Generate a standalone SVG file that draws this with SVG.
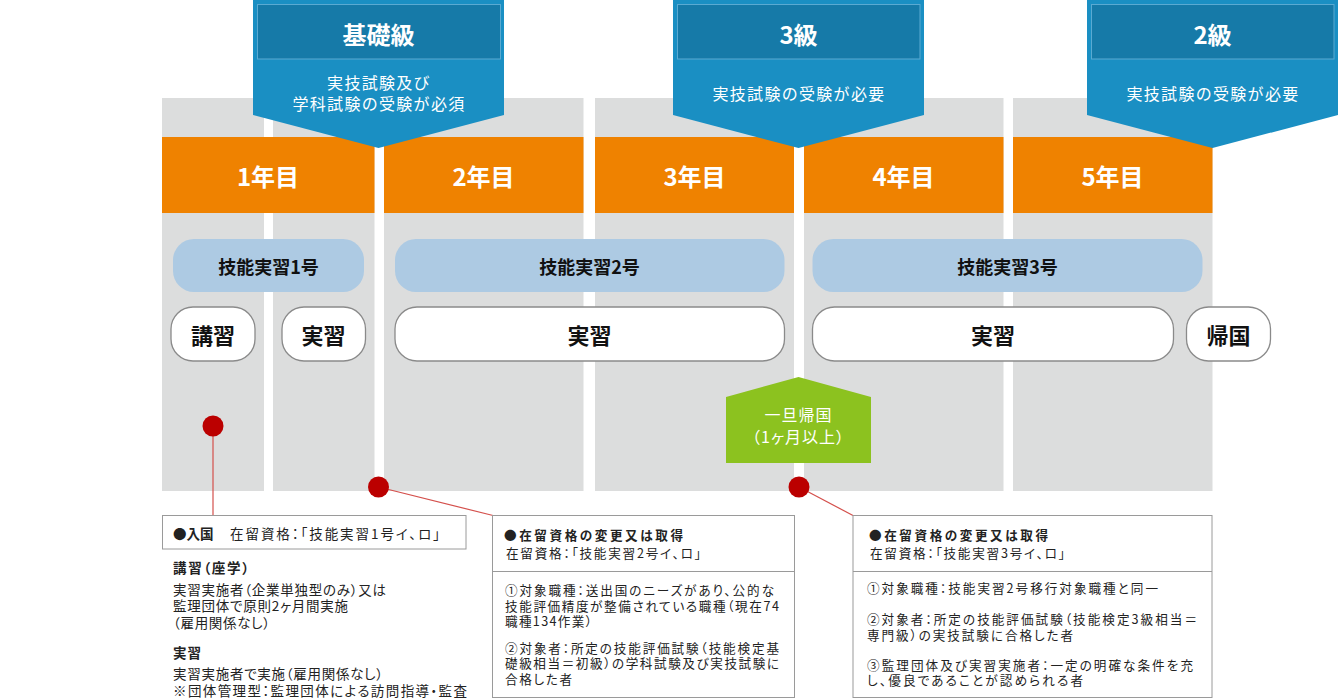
<svg xmlns="http://www.w3.org/2000/svg" width="1338" height="699" viewBox="0 0 1338 699">
<defs>
<style>
text{font-family:"Noto Sans CJK JP","Noto Sans",sans-serif;dominant-baseline:central}
.col{fill:#dcdddd}
.year{fill:#ef8200}
.yt{fill:#fff;font-size:24px;font-weight:700;text-anchor:middle}
.bo{fill:#1a8fc3}
.bi{fill:#167aa8;stroke:#5aaad2;stroke-width:1}
.bt{fill:#fff;font-size:24px;font-weight:700;text-anchor:middle}
.bs{fill:#fff;font-size:16px;text-anchor:middle;letter-spacing:1.3px}
.lb{fill:#adcae3}
.lbt{fill:#111;font-size:18px;font-weight:700;text-anchor:middle}
.wp{fill:#fff;stroke:#8a8a8a;stroke-width:1.3}
.wpt{fill:#111;font-size:22px;font-weight:700;text-anchor:middle}
.gr{fill:#8cc21f}
.grt{fill:#fff;font-size:16px;text-anchor:middle;letter-spacing:1px;font-feature-settings:"palt"}
.dot{fill:#bb0000}
.ln{stroke:#d4504c;stroke-width:1.2;fill:none}
.box{fill:#fff;stroke:#9a9a9a;stroke-width:1}
.t1{fill:#222;font-size:13.5px;font-feature-settings:"palt"}
.t2{fill:#222;font-size:12.6px;font-feature-settings:"palt"}
.b{font-weight:700}
</style>
</defs>
<g id="columns">
<rect class="col" x="162" y="98" width="102" height="393"/>
<rect class="col" x="273" y="98" width="101.5" height="393"/>
<rect class="col" x="384" y="98" width="199.5" height="393"/>
<rect class="col" x="595" y="98" width="199" height="393"/>
<rect class="col" x="804" y="98" width="199.5" height="393"/>
<rect class="col" x="1013" y="98" width="199.5" height="393"/>
</g>
<g id="year1"><rect class="year" x="162" y="137" width="212.5" height="76"/><text class="yt" x="268" y="175">1年目</text></g>
<g id="year2"><rect class="year" x="384" y="137" width="199.5" height="76"/><text class="yt" x="483.5" y="175">2年目</text></g>
<g id="year3"><rect class="year" x="595" y="137" width="199" height="76"/><text class="yt" x="694.5" y="175">3年目</text></g>
<g id="year4"><rect class="year" x="804" y="137" width="199.5" height="76"/><text class="yt" x="903.5" y="175">4年目</text></g>
<g id="year5"><rect class="year" x="1013" y="137" width="199.5" height="76"/><text class="yt" x="1112.5" y="175">5年目</text></g>
<g id="banner-kiso">
<path class="bo" d="M253,0 H504 V115 L378.5,148 L253,115 Z"/>
<rect class="bi" x="257.5" y="4.5" width="243" height="54.5"/>
<text class="bt" x="378.5" y="33">基礎級</text>
<text class="bs" x="379" y="82">実技試験及び</text>
<text class="bs" x="379" y="103">学科試験の受験が必須</text>
</g>
<g id="banner-3kyu">
<path class="bo" d="M673,0 H924 V115 L798.5,148 L673,115 Z"/>
<rect class="bi" x="677.5" y="4.5" width="242.5" height="54.5"/>
<text class="bt" x="798.5" y="33">3級</text>
<text class="bs" x="799" y="93">実技試験の受験が必要</text>
</g>
<g id="banner-2kyu">
<path class="bo" d="M1087,0 H1338 V115 L1212.5,148 L1087,115 Z"/>
<rect class="bi" x="1091.5" y="4.5" width="242.5" height="54.5"/>
<text class="bt" x="1212.5" y="33">2級</text>
<text class="bs" x="1213" y="93">実技試験の受験が必要</text>
</g>
<g id="gino1"><rect class="lb" x="173" y="239" width="191" height="53" rx="21"/><text class="lbt" x="268.5" y="266">技能実習1号</text></g>
<g id="gino2"><rect class="lb" x="395" y="239" width="389.5" height="53" rx="21"/><text class="lbt" x="589.5" y="266">技能実習2号</text></g>
<g id="gino3"><rect class="lb" x="812.5" y="239" width="390" height="53" rx="21"/><text class="lbt" x="1007.5" y="266">技能実習3号</text></g>
<g id="koshu"><rect class="wp" x="171" y="307" width="84" height="54" rx="22"/><text class="wpt" x="213" y="334">講習</text></g>
<g id="jisshu1"><rect class="wp" x="282" y="307" width="83.5" height="54" rx="22"/><text class="wpt" x="323.5" y="334">実習</text></g>
<g id="jisshu2"><rect class="wp" x="395" y="307" width="389.5" height="54" rx="22"/><text class="wpt" x="589.5" y="334">実習</text></g>
<g id="jisshu3"><rect class="wp" x="812.5" y="307" width="361" height="54" rx="22"/><text class="wpt" x="993" y="334">実習</text></g>
<g id="kikoku"><rect class="wp" x="1186.5" y="307" width="84" height="54" rx="22"/><text class="wpt" x="1228.5" y="334">帰国</text></g>
<g id="ittan-kikoku">
<path class="gr" d="M726,397 L798.5,377 L871,397 V463 H726 Z"/>
<text class="grt" x="798.5" y="414">一旦帰国</text>
<text class="grt" x="798.5" y="436">（1ヶ月以上）</text>
</g>
<g id="connectors">
<line class="ln" x1="213" y1="426" x2="213" y2="515"/>
<line class="ln" x1="378.5" y1="487" x2="493" y2="515.5"/>
<line class="ln" x1="799" y1="487" x2="853" y2="515.5"/>
<circle class="dot" cx="213" cy="426" r="10.5"/>
<circle class="dot" cx="378.5" cy="487" r="10.5"/>
<circle class="dot" cx="799" cy="487" r="10.5"/>
</g>
<g id="info-nyukoku">
<rect class="box" x="162.5" y="515.5" width="303.5" height="33.5"/>
<text class="t1 b" x="173" y="532.5">●入国</text>
<text class="t1" x="230" y="532.5" textLength="210">在留資格：「技能実習1号イ、ロ」</text>
<text class="t1 b" x="173" y="567" textLength="76">講習（座学）</text>
<text class="t1" x="173" y="588.5" textLength="213">実習実施者（企業単独型のみ）又は</text>
<text class="t1" x="173" y="605" textLength="175">監理団体で原則2ヶ月間実施</text>
<text class="t1" x="173" y="621.5" textLength="97">（雇用関係なし）</text>
<text class="t1 b" x="173" y="651.5" textLength="28">実習</text>
<text class="t1" x="173" y="672.5" textLength="210">実習実施者で実施（雇用関係なし）</text>
<text class="t1" x="173" y="689.5" textLength="294">※団体管理型：監理団体による訪問指導・監査</text>
</g>
<g id="info-2go">
<rect class="box" x="492.5" y="515.5" width="302" height="182"/>
<line x1="492.5" y1="571.5" x2="794.5" y2="571.5" stroke="#9a9a9a" stroke-width="1"/>
<text class="t2 b" x="504" y="534" textLength="179">●在留資格の変更又は取得</text>
<text class="t2" x="506" y="552.5" textLength="195">在留資格：「技能実習2号イ、ロ」</text>
<text class="t2" x="505" y="589.5" textLength="269">①対象職種：送出国のニーズがあり、公的な</text>
<text class="t2" x="505" y="605.5" textLength="274">技能評価精度が整備されている職種（現在74</text>
<text class="t2" x="505" y="620.5" textLength="87">職種134作業）</text>
<text class="t2" x="505" y="647" textLength="274">②対象者：所定の技能評価試験（技能検定基</text>
<text class="t2" x="505" y="662.5" textLength="274">礎級相当＝初級）の学科試験及び実技試験に</text>
<text class="t2" x="505" y="678" textLength="67">合格した者</text>
</g>
<g id="info-3go">
<rect class="box" x="853" y="515.5" width="359" height="182"/>
<line x1="853" y1="571.5" x2="1212" y2="571.5" stroke="#9a9a9a" stroke-width="1"/>
<text class="t2 b" x="869" y="534" textLength="179">●在留資格の変更又は取得</text>
<text class="t2" x="870" y="552.5" textLength="195">在留資格：「技能実習3号イ、ロ」</text>
<text class="t2" x="867" y="587.5" textLength="291">①対象職種：技能実習2号移行対象職種と同一</text>
<text class="t2" x="867" y="618" textLength="330">②対象者：所定の技能評価試験（技能検定3級相当＝</text>
<text class="t2" x="867" y="634" textLength="206">専門級）の実技試験に合格した者</text>
<text class="t2" x="867" y="664" textLength="326">③監理団体及び実習実施者：一定の明確な条件を充</text>
<text class="t2" x="867" y="679.5" textLength="216">し、優良であることが認められる者</text>
</g>
</svg>
